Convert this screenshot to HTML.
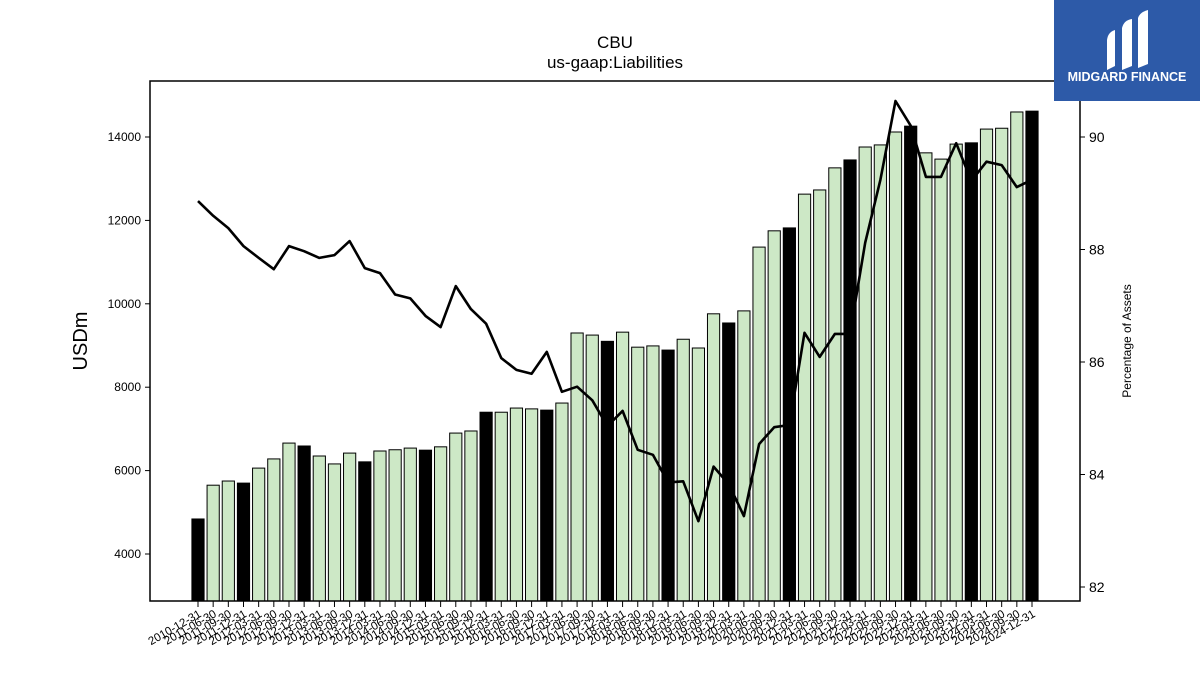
<!DOCTYPE html>
<html><head><meta charset="utf-8"><style>
body{margin:0;background:#fff;width:1200px;height:675px;overflow:hidden;font-family:"Liberation Sans","DejaVu Sans",sans-serif}
</style></head><body>
<svg id="c" width="1200" height="675" xmlns="http://www.w3.org/2000/svg"></svg>
<script>
const dates=["2010-12-31","2011-06-30","2011-09-30","2011-12-31","2012-03-31","2012-06-30","2012-09-30","2012-12-31","2013-03-31","2013-06-30","2013-09-30","2013-12-31","2014-03-31","2014-06-30","2014-09-30","2014-12-31","2015-03-31","2015-06-30","2015-09-30","2015-12-31","2016-03-31","2016-06-30","2016-09-30","2016-12-31","2017-03-31","2017-06-30","2017-09-30","2017-12-31","2018-03-31","2018-06-30","2018-09-30","2018-12-31","2019-03-31","2019-06-30","2019-09-30","2019-12-31","2020-03-31","2020-06-30","2020-09-30","2020-12-31","2021-03-31","2021-06-30","2021-09-30","2021-12-31","2022-03-31","2022-06-30","2022-09-30","2022-12-31","2023-03-31","2023-06-30","2023-09-30","2023-12-31","2024-03-31","2024-06-30","2024-09-30","2024-12-31"];
const liabilities=[4840,5650,5750,5700,6060,6280,6660,6590,6350,6160,6420,6210,6470,6500,6540,6490,6570,6900,6950,7400,7400,7500,7480,7450,7620,9300,9250,9100,9320,8960,8990,8890,9150,8940,9760,9540,9830,11360,11750,11820,12630,12730,13260,13450,13760,13810,14120,14260,13620,13470,13830,13860,14190,14210,14600,14620];
const pctAssets=[88.86,88.6,88.38,88.06,87.85,87.65,88.06,87.97,87.85,87.9,88.15,87.67,87.58,87.2,87.13,86.82,86.62,87.35,86.94,86.68,86.07,85.86,85.79,86.18,85.47,85.56,85.32,84.86,85.13,84.44,84.35,83.86,83.88,83.17,84.14,83.83,83.26,84.54,84.84,84.88,86.52,86.09,86.5,86.5,88.12,89.24,90.64,90.2,89.29,89.29,89.89,89.22,89.56,89.5,89.11,89.24];
const leftTicks=[4000,6000,8000,10000,12000,14000];
const rightTicks=[82,84,86,88,90];

const NS="http://www.w3.org/2000/svg";
const svg=document.getElementById('c');
function mk(t,a,p){const e=document.createElementNS(NS,t);for(const k in a)e.setAttribute(k,a[k]);(p||svg).appendChild(e);return e;}
const L=150,R=1080,T=81,B=601;
const yL=v=>554-(v-4000)*(417/10000);
const yR=v=>137+(90-v)*56.25;
const step=(1032-198)/(dates.length-1);
const xC=i=>198+i*step;
const bw=12.2;

const bars=mk('g',{});


liabilities.forEach((v,i)=>{
  const y=yL(v);
  const r=mk('rect',{x:xC(i)-bw/2,y:y,width:bw,height:B-y,fill:(i%4===3||i===0)?'#000':'#cde8c6',stroke:'#000','stroke-width':1},bars);
  
  
});
const pts=pctAssets.map((v,i)=>xC(i).toFixed(1)+','+yR(v).toFixed(1)).join(' ');
const line=mk('polyline',{points:pts,fill:'none',stroke:'#000','stroke-width':2.6,'stroke-linejoin':'round'});



const frame=mk('rect',{x:L,y:T,width:R-L,height:B-T,fill:'none',stroke:'#000','stroke-width':1.5});



leftTicks.forEach(v=>{
  const y=yL(v);
  mk('line',{x1:L-5,x2:L,y1:y,y2:y,stroke:'#000'});
  const t=mk('text',{x:L-9,y:y+4,'text-anchor':'end','font-size':12});
  t.textContent=v;
  
  
});
rightTicks.forEach(v=>{
  const y=yR(v);
  mk('line',{x1:R,x2:R+5,y1:y,y2:y,stroke:'#000'});
  const t=mk('text',{x:R+9,y:y+5,'font-size':14});
  t.textContent=v;
  
  
});
dates.forEach((d,i)=>{
  const x=xC(i);
  mk('line',{x1:x,x2:x,y1:B,y2:B+6,stroke:'#000'});
  const t=mk('text',{x:x+4,y:B+15,'text-anchor':'end','font-size':11.5,transform:`rotate(-30 ${x+4} ${B+15})`});
  t.textContent=d;
  
  
});
let t=mk('text',{x:615,y:48,'text-anchor':'middle','font-size':17});t.textContent='CBU';


t=mk('text',{x:615,y:68,'text-anchor':'middle','font-size':17});t.textContent='us-gaap:Liabilities';


t=mk('text',{x:87,y:341,'text-anchor':'middle','font-size':20,transform:'rotate(-90 87 341)'});t.textContent='USDm';


t=mk('text',{x:1131,y:341,'text-anchor':'middle','font-size':12,transform:'rotate(-90 1131 341)'});t.textContent='Percentage of Assets';



const logo=mk('g',{});


mk('rect',{x:1054,y:0,width:146,height:101,fill:'#2d5aa8'},logo);
mk('path',{d:'M1107 40 Q1108 32 1115 30 L1115 66 L1107 70 Z',fill:'#fff'},logo);
mk('path',{d:'M1122 28 Q1124 20 1132 19 L1132 66 L1122 70 Z',fill:'#fff'},logo);
mk('path',{d:'M1138 18 Q1140 12 1148 10 L1148 64 L1138 68 Z',fill:'#fff'},logo);
t=mk('text',{x:1127,y:81,'text-anchor':'middle','font-size':12.5,'font-weight':'bold',fill:'#fff'},logo);t.textContent='MIDGARD FINANCE';


</script>
</body></html>
